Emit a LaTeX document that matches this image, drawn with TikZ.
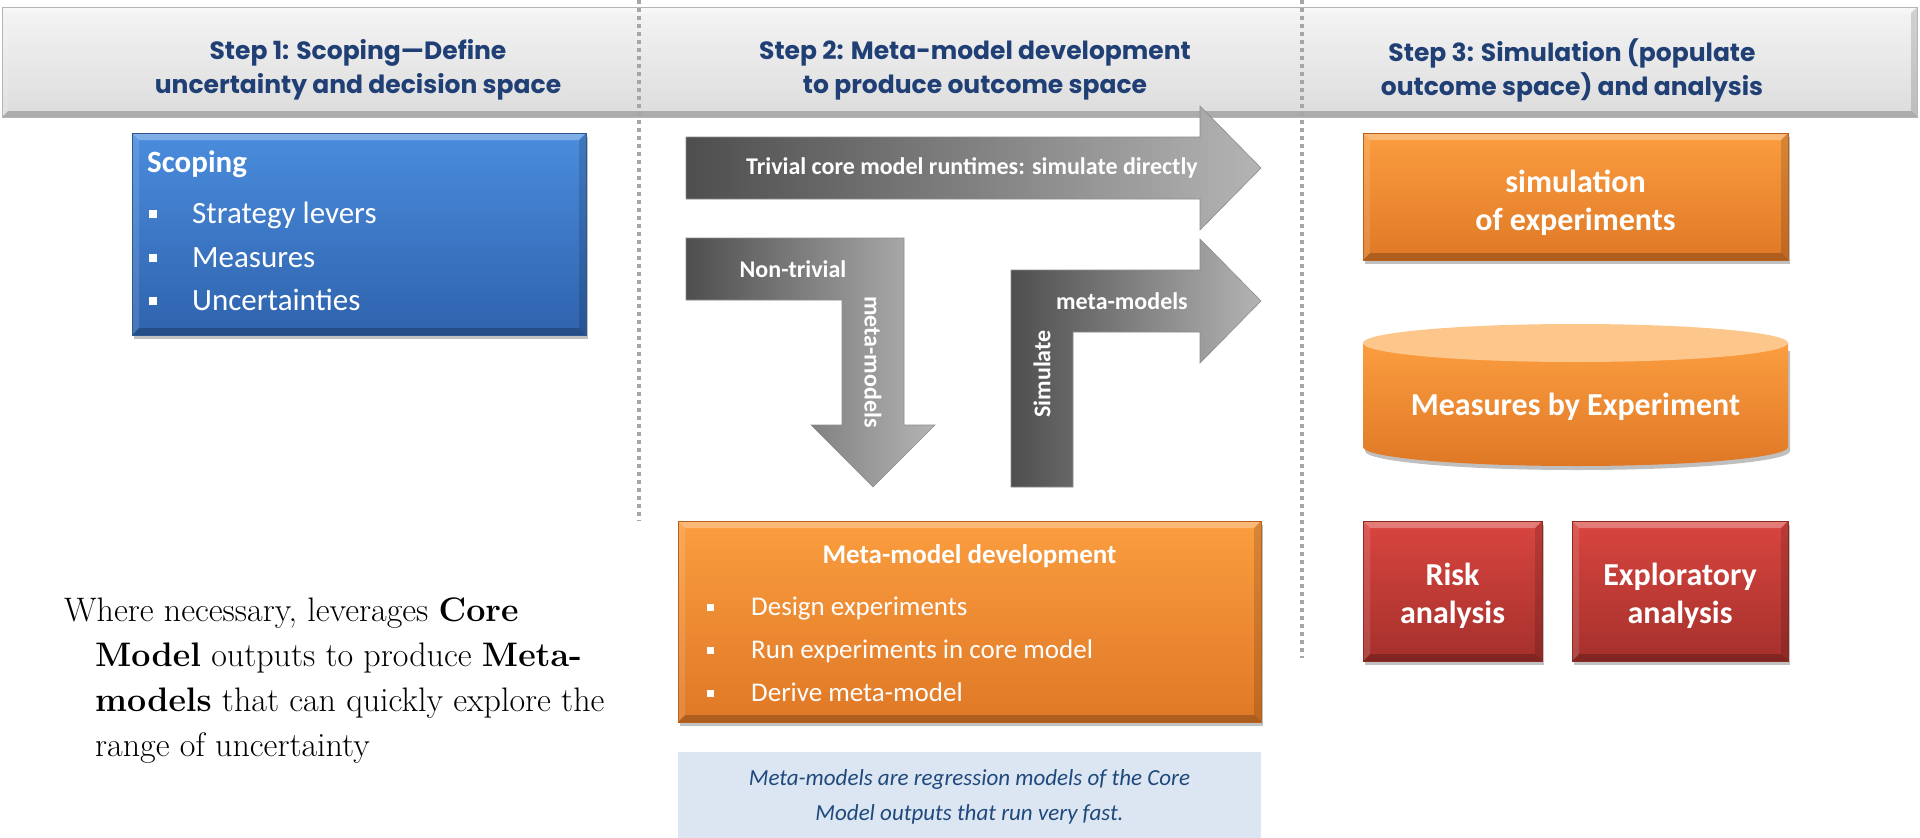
\documentclass[tikz,border=0pt]{standalone}
\usepackage{fontspec}
\usetikzlibrary{shadows}
\newfontfamily\calfont{Carlito}
\newfontfamily\gothfont{Poppins}
\definecolor{hdrblue}{HTML}{1F3F75}
\definecolor{hdrT}{HTML}{F4F4F4}
\definecolor{hdrB}{HTML}{DCDCDC}
\definecolor{hdrD}{HTML}{B5B5B5}
\definecolor{dotgray}{HTML}{A6A6A6}
\definecolor{blueT}{HTML}{4A8CDD}
\definecolor{blueB}{HTML}{2F63AD}
\definecolor{blueD}{HTML}{2C5794}
\definecolor{orT}{HTML}{FB9D3F}
\definecolor{orB}{HTML}{DF7826}
\definecolor{orD}{HTML}{B8611F}
\definecolor{redT}{HTML}{D9453F}
\definecolor{redB}{HTML}{A5302C}
\definecolor{redD}{HTML}{8C2A26}
\definecolor{capC}{HTML}{FDC68A}
\definecolor{noteF}{HTML}{DCE6F2}
\definecolor{noteT}{HTML}{1F497D}
\definecolor{arrL}{HTML}{4E4E4E}
\definecolor{arrR}{HTML}{B4B4B4}
\newcommand\sqbul[3]{\makebox[#1][l]{\rule[#3]{#2}{#2}}}
\tikzset{
  bevel/.style={path picture={
    \coordinate (bnw) at (path picture bounding box.north west);
    \coordinate (bne) at (path picture bounding box.north east);
    \coordinate (bsw) at (path picture bounding box.south west);
    \coordinate (bse) at (path picture bounding box.south east);
    \fill[white,opacity=.30] (bnw) -- (bne) -- ([shift={(-#1,-#1)}]bne) -- ([shift={(#1,-#1)}]bnw) -- cycle;
    \fill[black,opacity=.22] (bsw) -- (bse) -- ([shift={(-#1,#1)}]bse) -- ([shift={(#1,#1)}]bsw) -- cycle;
    \fill[white,opacity=.12] (bnw) -- ([shift={(#1,-#1)}]bnw) -- ([shift={(#1,#1)}]bsw) -- (bsw) -- cycle;
    \fill[black,opacity=.14] (bne) -- ([shift={(-#1,-#1)}]bne) -- ([shift={(-#1,#1)}]bse) -- (bse) -- cycle;
  }},
  bevel/.default=7pt,
  shad/.style={drop shadow={shadow xshift=2pt, shadow yshift=-4pt, opacity=.35, fill=black!70}},
  bluebox/.style={rectangle, top color=blueT, bottom color=blueB, draw=blueD, line width=1pt, bevel, shad, inner sep=0},
  orbox/.style={rectangle, top color=orT, bottom color=orB, draw=orD, line width=1pt, bevel, shad, inner sep=0},
  redbox/.style={rectangle, top color=redT, bottom color=redB, draw=redD, line width=1pt, bevel, shad, inner sep=0},
  hdrbar/.style={rectangle, top color=hdrT, bottom color=hdrB, draw=hdrD, line width=1pt, bevel=6pt, inner sep=0},
  hdrtext/.style={font=\gothfont\bfseries\fontsize{25}{34}\selectfont, text=hdrblue, align=center, inner sep=0},
  dotline/.style={draw=dotgray, line width=3.5pt, dash pattern=on 3.5pt off 4.5pt},
  grayarrow/.style={left color=arrL, right color=arrR, draw=black!45, line width=.6pt},
  arrtext/.style={font=\calfont\bfseries\fontsize{24}{28}\selectfont, text=white, inner sep=0},
  boxbig/.style={font=\calfont\bfseries\fontsize{32}{38.5}\selectfont, text=white, align=center, inner sep=0},
}
\begin{document}
\begin{tikzpicture}[x=1pt,y=-1pt]
\useasboundingbox (0,0) rectangle (1920,838);

% header bar
\node[hdrbar, minimum width=1915pt, minimum height=110pt] (hdr) at (959.5,62) {};
\draw[dotline] (639,0) -- (639,521);
\draw[dotline] (1302,0) -- (1302,658);
\node[hdrtext] (h1) at (358,70) {Step 1: Scoping—Define\\uncertainty and decision space};
\node[hdrtext] (h2) at (975,70) {Step 2: Meta-model development\\to produce outcome space};
\node[hdrtext] (h3) at (1572,70) {Step 3: Simulation (populate\\outcome space) and analysis};

% Step 1: scoping box
\node[bluebox, minimum width=454pt, minimum height=202pt] (scoping) at (359,234) {};
\node[font=\calfont\bfseries\fontsize{31}{36}\selectfont, text=white, inner sep=0, anchor=base west] (sct) at (147,172) {Scoping};
\node[font=\calfont\fontsize{31}{36}\selectfont, text=white, inner sep=0, anchor=base west] (sc1) at (149,223) {\sqbul{43pt}{8pt}{5pt}Strategy levers};
\node[font=\calfont\fontsize{31}{36}\selectfont, text=white, inner sep=0, anchor=base west] (sc2) at (149,267) {\sqbul{43pt}{8pt}{5pt}Measures};
\node[font=\calfont\fontsize{31}{36}\selectfont, text=white, inner sep=0, anchor=base west] (sc3) at (149,310) {\sqbul{43pt}{8pt}{5pt}Uncertainties};

% Step 2: arrows
\shade[grayarrow] (686,137) -- (1200,137) -- (1200,106) -- (1261,168) -- (1200,230) -- (1200,199) -- (686,199) -- cycle;
\node[arrtext] (triv) at (972,168) {Trivial core model runtimes: simulate directly};

\shade[grayarrow] (686,238) -- (904,238) -- (904,425) -- (935,425) -- (873,487) -- (811,425) -- (842,425) -- (842,300) -- (686,300) -- cycle;
\node[arrtext] (nontriv) at (793,269) {Non-trivial};
\node[arrtext, rotate=-90] (mm1) at (873,362) {meta-models};

\shade[grayarrow] (1011,487) -- (1011,270) -- (1200,270) -- (1200,239) -- (1261,301) -- (1200,363) -- (1200,332) -- (1073,332) -- (1073,487) -- cycle;
\node[arrtext] (mm2) at (1122,301) {meta-models};
\node[arrtext, rotate=90] (simul) at (1042,374) {Simulate};

% Meta-model development box
\node[orbox, minimum width=583pt, minimum height=201pt] (meta) at (969.5,621.5) {};
\node[font=\calfont\bfseries\fontsize{27}{32}\selectfont, text=white, inner sep=0, anchor=base] (mtt) at (969.5,563) {Meta-model development};
\node[font=\calfont\fontsize{27}{32}\selectfont, text=white, inner sep=0, anchor=base west] (mt1) at (707,615) {\sqbul{44pt}{7pt}{4.5pt}Design experiments};
\node[font=\calfont\fontsize{27}{32}\selectfont, text=white, inner sep=0, anchor=base west] (mt2) at (707,658) {\sqbul{44pt}{7pt}{4.5pt}Run experiments in core model};
\node[font=\calfont\fontsize{27}{32}\selectfont, text=white, inner sep=0, anchor=base west] (mt3) at (707,701) {\sqbul{44pt}{7pt}{4.5pt}Derive meta-model};

% note
\node[rectangle, fill=noteF, minimum width=583pt, minimum height=86pt, inner sep=0] (notebox) at (969.5,795) {};
\node[font=\calfont\itshape\fontsize{23}{34.5}\selectfont, text=noteT, align=center, inner sep=0] (note) at (969.5,797) {Meta-models are regression models of the Core\\Model outputs that run very fast.};

% Step 3
\node[orbox, minimum width=425pt, minimum height=127pt] (sim) at (1575.5,196.5) {};
\node[boxbig] (simt) at (1575.5,203) {simulation\\of experiments};

% cylinder
\fill[black,opacity=.25] (1365,351) -- (1365,451) arc[start angle=180, end angle=0, x radius=212.5, y radius=19] -- (1790,351) -- cycle;
\shade[top color=orT, bottom color=orB] (1363,343) -- (1363,447) arc[start angle=180, end angle=0, x radius=212.5, y radius=19] -- (1788,343) -- cycle;
\fill[capC] (1575.5,343) ellipse[x radius=212.5, y radius=19];
\node[boxbig] (meas) at (1575.5,407) {Measures by Experiment};

\node[redbox, minimum width=179pt, minimum height=140pt] (risk) at (1452.5,591) {};
\node[redbox, minimum width=216pt, minimum height=140pt] (explo) at (1680,591) {};
\node[boxbig] (riskt) at (1452.5,596) {Risk\\analysis};
\node[boxbig] (explot) at (1680,596) {Exploratory\\analysis};

% bottom-left text
\node[anchor=base west, inner sep=0, font=\fontsize{34}{45}\selectfont] (expl) at (64,621)
  {\parbox[t]{640pt}{\hangindent=31pt\hangafter=1 Where necessary, leverages \textbf{Core}\\\textbf{Model} outputs to produce \textbf{Meta-}\\\textbf{models} that can quickly explore the\\range of uncertainty}};
\end{tikzpicture}
\end{document}
